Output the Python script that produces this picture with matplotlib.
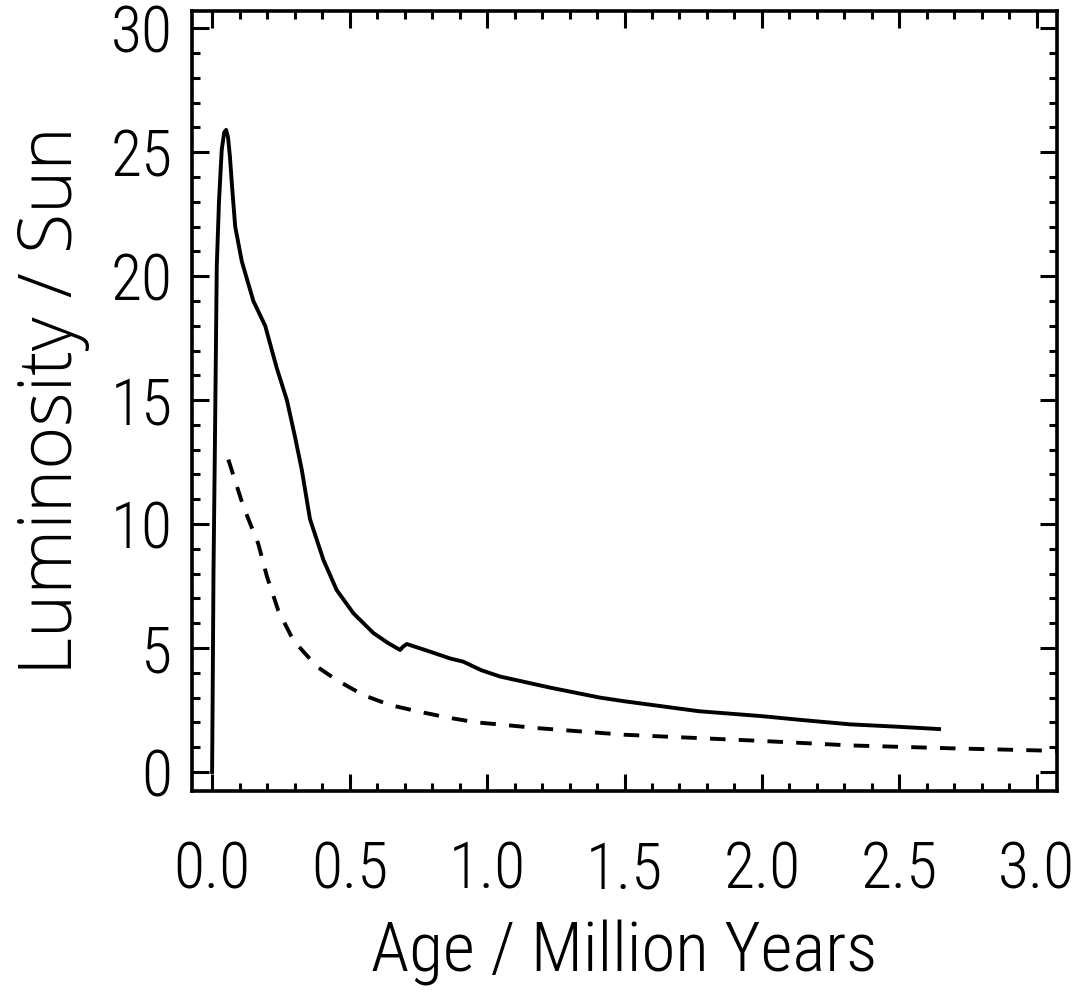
import matplotlib
matplotlib.use("Agg")
import matplotlib.pyplot as plt
from matplotlib import font_manager
from matplotlib.ticker import MultipleLocator

# solid curve (age in Myr, luminosity in L_sun)
age_solid = [0.0, 0.002, 0.005, 0.010, 0.017, 0.025, 0.035, 0.044, 0.051, 0.058,
             0.065, 0.072, 0.084, 0.108, 0.150, 0.193, 0.235, 0.272, 0.300,
             0.326, 0.356, 0.405, 0.453, 0.514, 0.587, 0.640, 0.684, 0.694,
             0.708, 0.780, 0.865, 0.913, 0.98, 1.047, 1.23, 1.41, 1.5, 1.77,
             2.0, 2.14, 2.32, 2.5, 2.644]
lum_solid = [0.0, 3.0, 8.0, 13.0, 20.4, 23.0, 25.1, 25.8, 25.9, 25.6,
             24.8, 23.7, 22.0, 20.6, 19.0, 18.0, 16.3, 15.0, 13.6,
             12.2, 10.2, 8.55, 7.34, 6.4, 5.6, 5.2, 4.92, 5.05,
             5.16, 4.9, 4.58, 4.45, 4.1, 3.85, 3.4, 3.0, 2.85, 2.45,
             2.25, 2.1, 1.92, 1.82, 1.73]

# dashed curve
age_dash = [0.059, 0.114, 0.168, 0.199, 0.241, 0.296, 0.381, 0.454, 0.55, 0.647,
            0.745, 0.854, 0.96, 1.06, 1.18, 1.5, 2.0, 2.32, 2.7, 3.07]
lum_dash = [12.6, 10.7, 9.2, 7.9, 6.5, 5.3, 4.25, 3.7, 3.1, 2.7,
            2.45, 2.2, 2.0, 1.9, 1.77, 1.5, 1.25, 1.07, 0.95, 0.85]

STRETCH = {"ultra-condensed": 1, "extra-condensed": 2, "condensed": 3,
           "semi-condensed": 4, "normal": 5, "semi-expanded": 6,
           "expanded": 7, "extra-expanded": 8, "ultra-expanded": 9}


def as_weight(w):
    if isinstance(w, str):
        return font_manager.weight_dict.get(w, 400)
    return int(w)


def as_stretch(s):
    if isinstance(s, str):
        return STRETCH.get(s, 5)
    return 5 if s is None else max(1, min(9, round(s / 100)))


def find_face(families, want_stretch, want_weight):
    best = None
    for rank, fam in enumerate(families):
        for fe in font_manager.fontManager.ttflist:
            if fe.name != fam or fe.style != "normal":
                continue
            st = as_stretch(fe.stretch)
            wt = as_weight(fe.weight)
            score = abs(st - want_stretch) * 10 + abs(wt - want_weight) / 100 + rank * 0.5
            if wt < 250:
                score += 3
            if best is None or score < best[0]:
                best = (score, fe)
    if best is None:
        return font_manager.FontProperties(family="DejaVu Sans")
    return font_manager.FontProperties(fname=best[1].fname)


# narrow light face for the numbers and x title (IDL-like lettering),
# a wider face for the y title, which is drawn wider in the original
narrow = find_face(["Roboto Condensed", "Liberation Sans Narrow", "DejaVu Sans",
                    "Open Sans", "Roboto", "Liberation Sans"], 1, 330)
wide = find_face(["DejaVu Sans", "Open Sans", "Noto Sans", "Roboto"], 5, 300)
plt.rcParams["font.family"] = ["DejaVu Sans"]

fig = plt.figure(figsize=(10.88, 9.93), dpi=100)
ax = fig.add_axes([0.1765, 0.2034, 0.795, 0.7856])

ax.plot(age_solid, lum_solid, color="black", lw=2.8)
ax.plot(age_dash, lum_dash, color="black", lw=2.8, dashes=(4.0, 3.4))

ax.set_xlim(-0.073, 3.073)
ax.set_ylim(-0.77, 30.7)
ax.xaxis.set_major_locator(MultipleLocator(0.5))
ax.xaxis.set_minor_locator(MultipleLocator(0.1))
ax.yaxis.set_major_locator(MultipleLocator(5))
ax.yaxis.set_minor_locator(MultipleLocator(1))
ax.xaxis.set_major_formatter(lambda v, p: f"{v:.1f}")
ax.yaxis.set_major_formatter(lambda v, p: f"{v:.0f}")

ax.tick_params(which="both", direction="in", top=True, right=True, width=2.2)
ax.tick_params(which="major", length=12)
ax.tick_params(which="minor", length=6)
ax.tick_params(axis="x", which="major", pad=35)
ax.tick_params(axis="y", which="major", pad=14)
for lab in ax.get_xticklabels() + ax.get_yticklabels():
    lab.set_fontproperties(narrow)
    lab.set_fontsize(46)
for s in ax.spines.values():
    s.set_linewidth(2.6)

ax.set_xlabel("Age / Million Years", fontproperties=narrow, fontsize=50, labelpad=13)
ax.set_ylabel("Luminosity / Sun", fontproperties=wide, fontsize=53, labelpad=15)

fig.savefig("out.png", dpi=100)
